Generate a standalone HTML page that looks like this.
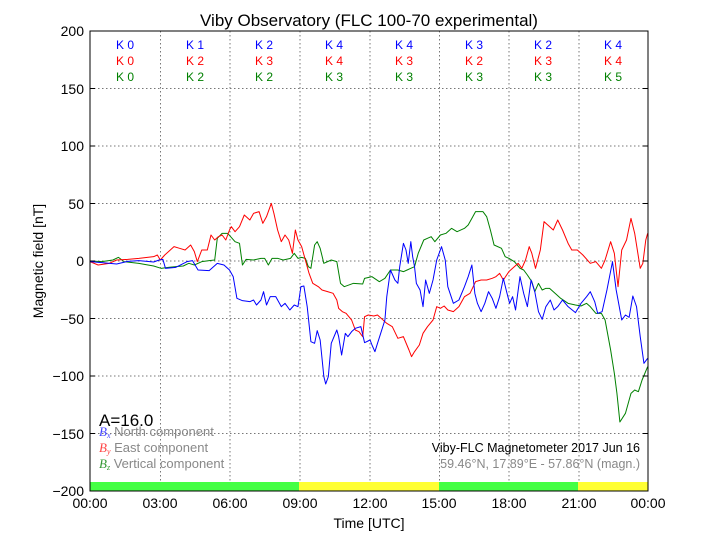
<!DOCTYPE html>
<html><head><meta charset="utf-8"><style>
body{margin:0;background:#fff;}
svg{display:block;font-family:"Liberation Sans",sans-serif;}
</style></head><body>
<svg width="720" height="540" viewBox="0 0 720 540">
<rect width="720" height="540" fill="#fff"/>
<text x="369" y="26" font-size="17" text-anchor="middle">Viby Observatory (FLC 100-70 experimental)</text>
<g stroke="#777" stroke-width="1" stroke-dasharray="1.5,2.5" fill="none">
<path d="M160.5 31V491M230 31V491M300 31V491M370 31V491M439.5 31V491M509 31V491M579 31V491"/>
<path d="M90 88.5H648M90 146H648M90 203.5H648M90 261H648M90 318.5H648M90 376H648M90 433.5H648"/>
</g>
<rect x="90" y="482" width="209" height="9" fill="#44ff44"/>
<rect x="299" y="482" width="140" height="9" fill="#ffff33"/>
<rect x="439" y="482" width="139" height="9" fill="#44ff44"/>
<rect x="578" y="482" width="70" height="9" fill="#ffff33"/>
<g font-size="12" text-anchor="middle">
<g fill="#0000ff"><text x="125" y="49">K 0</text><text x="195" y="49">K 1</text><text x="264" y="49">K 2</text><text x="334" y="49">K 4</text><text x="404" y="49">K 4</text><text x="474" y="49">K 3</text><text x="543" y="49">K 2</text><text x="613" y="49">K 4</text></g>
<g fill="#ff0000"><text x="125" y="65">K 0</text><text x="195" y="65">K 2</text><text x="264" y="65">K 3</text><text x="334" y="65">K 4</text><text x="404" y="65">K 3</text><text x="474" y="65">K 2</text><text x="543" y="65">K 3</text><text x="613" y="65">K 4</text></g>
<g fill="#008000"><text x="125" y="81">K 0</text><text x="195" y="81">K 2</text><text x="264" y="81">K 2</text><text x="334" y="81">K 3</text><text x="404" y="81">K 3</text><text x="474" y="81">K 3</text><text x="543" y="81">K 3</text><text x="613" y="81">K 5</text></g>
</g>
<g transform="translate(79.64,180) scale(0.37003,0.33333)" fill="none" stroke-width="1" stroke-linejoin="round">
<polyline vector-effect="non-scaling-stroke" stroke="#008000" points="28,243 60,245 90,240 105,232 120,245 160,250 200,258 220,265 240,262 260,260 280,258 295,250 310,255 330,245 350,242 365,240 372,175 385,160 400,160 420,185 432,190 440,255 450,238 470,240 490,235 500,235 510,255 520,235 535,235 550,240 570,235 580,220 590,235 600,232 610,235 618,260 625,265 635,195 642,185 650,205 660,250 680,240 695,245 705,310 715,320 740,310 765,312 770,295 790,290 810,305 825,295 840,270 860,270 875,275 885,270 895,265 905,260 915,220 930,180 940,175 950,170 960,185 975,165 990,160 1005,145 1020,155 1040,145 1050,135 1060,115 1070,95 1090,95 1100,110 1110,150 1120,195 1140,205 1150,230 1160,235 1175,245 1190,265 1200,270 1210,285 1222,305 1230,335 1240,310 1250,330 1260,325 1270,325 1290,345 1300,355 1320,370 1340,375 1355,378 1370,370 1380,380 1395,400 1410,400 1420,420 1435,510 1445,580 1452,640 1460,726 1475,700 1490,640 1500,630 1510,635 1520,600 1535,560"/>
<polyline vector-effect="non-scaling-stroke" stroke="#ff0000" points="28,245 50,255 80,250 100,240 130,238 160,235 200,230 210,225 218,240 230,225 245,210 255,200 270,205 285,210 300,195 310,215 318,245 330,210 345,210 355,165 365,180 375,170 385,165 395,180 405,150 410,140 420,155 432,140 445,105 460,120 470,100 485,95 495,130 505,110 518,70 525,100 535,150 545,185 555,165 565,180 575,220 583,150 590,180 600,200 610,240 620,280 630,310 645,320 655,330 670,335 685,340 695,360 700,385 710,395 720,400 735,420 745,450 755,455 765,470 770,410 780,405 795,408 805,405 815,415 830,430 845,440 860,475 875,470 890,510 897,530 905,515 918,495 928,460 940,440 955,420 965,380 975,385 985,378 995,390 1010,395 1025,380 1040,350 1055,340 1070,305 1085,300 1100,300 1115,295 1125,290 1135,280 1145,300 1160,275 1175,260 1185,250 1195,265 1205,240 1215,200 1222,220 1232,265 1245,210 1255,125 1270,140 1280,150 1292,120 1305,150 1320,190 1330,210 1345,210 1360,225 1380,250 1395,245 1410,265 1420,240 1435,185 1445,220 1455,320 1465,210 1478,180 1490,115 1500,160 1510,230 1515,265 1522,250 1530,180 1535,160"/>
<polyline vector-effect="non-scaling-stroke" stroke="#0000ff" points="28,245 60,248 100,252 130,244 160,242 200,246 215,240 225,238 232,265 260,262 290,245 305,242 320,270 350,272 372,250 390,255 405,270 415,290 425,355 440,362 460,365 470,360 478,375 490,360 497,335 505,375 515,350 530,350 545,380 555,370 568,390 580,375 590,380 598,320 606,318 615,380 625,485 635,490 642,452 650,480 660,590 665,612 672,590 680,490 695,450 700,470 708,525 718,460 725,470 735,455 745,445 760,440 770,488 785,480 790,495 798,515 805,490 815,455 825,420 830,350 840,270 852,300 860,310 865,260 875,190 882,210 888,250 895,185 900,230 905,260 910,310 920,330 928,380 935,300 945,340 955,300 965,240 978,200 988,240 995,320 1010,370 1025,360 1040,320 1050,290 1060,255 1068,340 1075,370 1085,395 1095,370 1105,335 1115,355 1125,385 1135,350 1145,295 1155,340 1162,370 1170,350 1178,390 1190,290 1200,340 1210,380 1220,300 1230,335 1240,395 1250,418 1260,380 1272,360 1282,390 1292,380 1305,360 1320,380 1340,398 1355,370 1370,350 1380,335 1392,365 1400,400 1412,395 1425,330 1440,245 1450,330 1465,420 1475,405 1485,412 1495,348 1505,380 1515,470 1525,550 1535,535"/>
</g>
<rect x="90" y="31" width="558" height="460" fill="none" stroke="#000" stroke-width="1"/>
<text x="99" y="426" font-size="17">A=16.0</text>
<g font-size="13" fill="#888">
<text x="99" y="436"><tspan fill="#4444ff" font-family="Liberation Serif" font-style="italic">B<tspan font-size="8" dy="2">x</tspan></tspan><tspan dy="-2"> North component</tspan></text>
<text x="99" y="452"><tspan fill="#ff4444" font-family="Liberation Serif" font-style="italic">B<tspan font-size="8" dy="2">y</tspan></tspan><tspan dy="-2"> East component</tspan></text>
<text x="99" y="468"><tspan fill="#339933" font-family="Liberation Serif" font-style="italic">B<tspan font-size="8" dy="2">z</tspan></tspan><tspan dy="-2"> Vertical component</tspan></text>
</g>
<text x="640" y="452" font-size="12.5" text-anchor="end">Viby-FLC Magnetometer 2017 Jun 16</text>
<text x="640" y="468" font-size="12.5" text-anchor="end" fill="#888">59.46°N, 17.89°E - 57.86°N (magn.)</text>
<g stroke="#000">
<path d="M90 88.5h5M90 146h5M90 203.5h5M90 261h5M90 318.5h5M90 376h5M90 433.5h5M648 88.5h-5M648 146h-5M648 203.5h-5M648 261h-5M648 318.5h-5M648 376h-5M648 433.5h-5"/>
</g>
<g font-size="14" text-anchor="end">
<text x="84" y="36">200</text><text x="84" y="94">150</text><text x="84" y="151">100</text><text x="84" y="209">50</text><text x="84" y="266">0</text><text x="84" y="324">−50</text><text x="84" y="381">−100</text><text x="84" y="439">−150</text><text x="84" y="496">−200</text>
</g>
<g font-size="14" text-anchor="middle">
<text x="90" y="508">00:00</text><text x="160" y="508">03:00</text><text x="230" y="508">06:00</text><text x="300" y="508">09:00</text><text x="370" y="508">12:00</text><text x="439" y="508">15:00</text><text x="509" y="508">18:00</text><text x="579" y="508">21:00</text><text x="648" y="508">00:00</text>
</g>
<text x="369" y="528" font-size="14" text-anchor="middle">Time [UTC]</text>
<text transform="translate(43,261) rotate(-90)" font-size="14" text-anchor="middle">Magnetic field [nT]</text>
</svg>
</body></html>
